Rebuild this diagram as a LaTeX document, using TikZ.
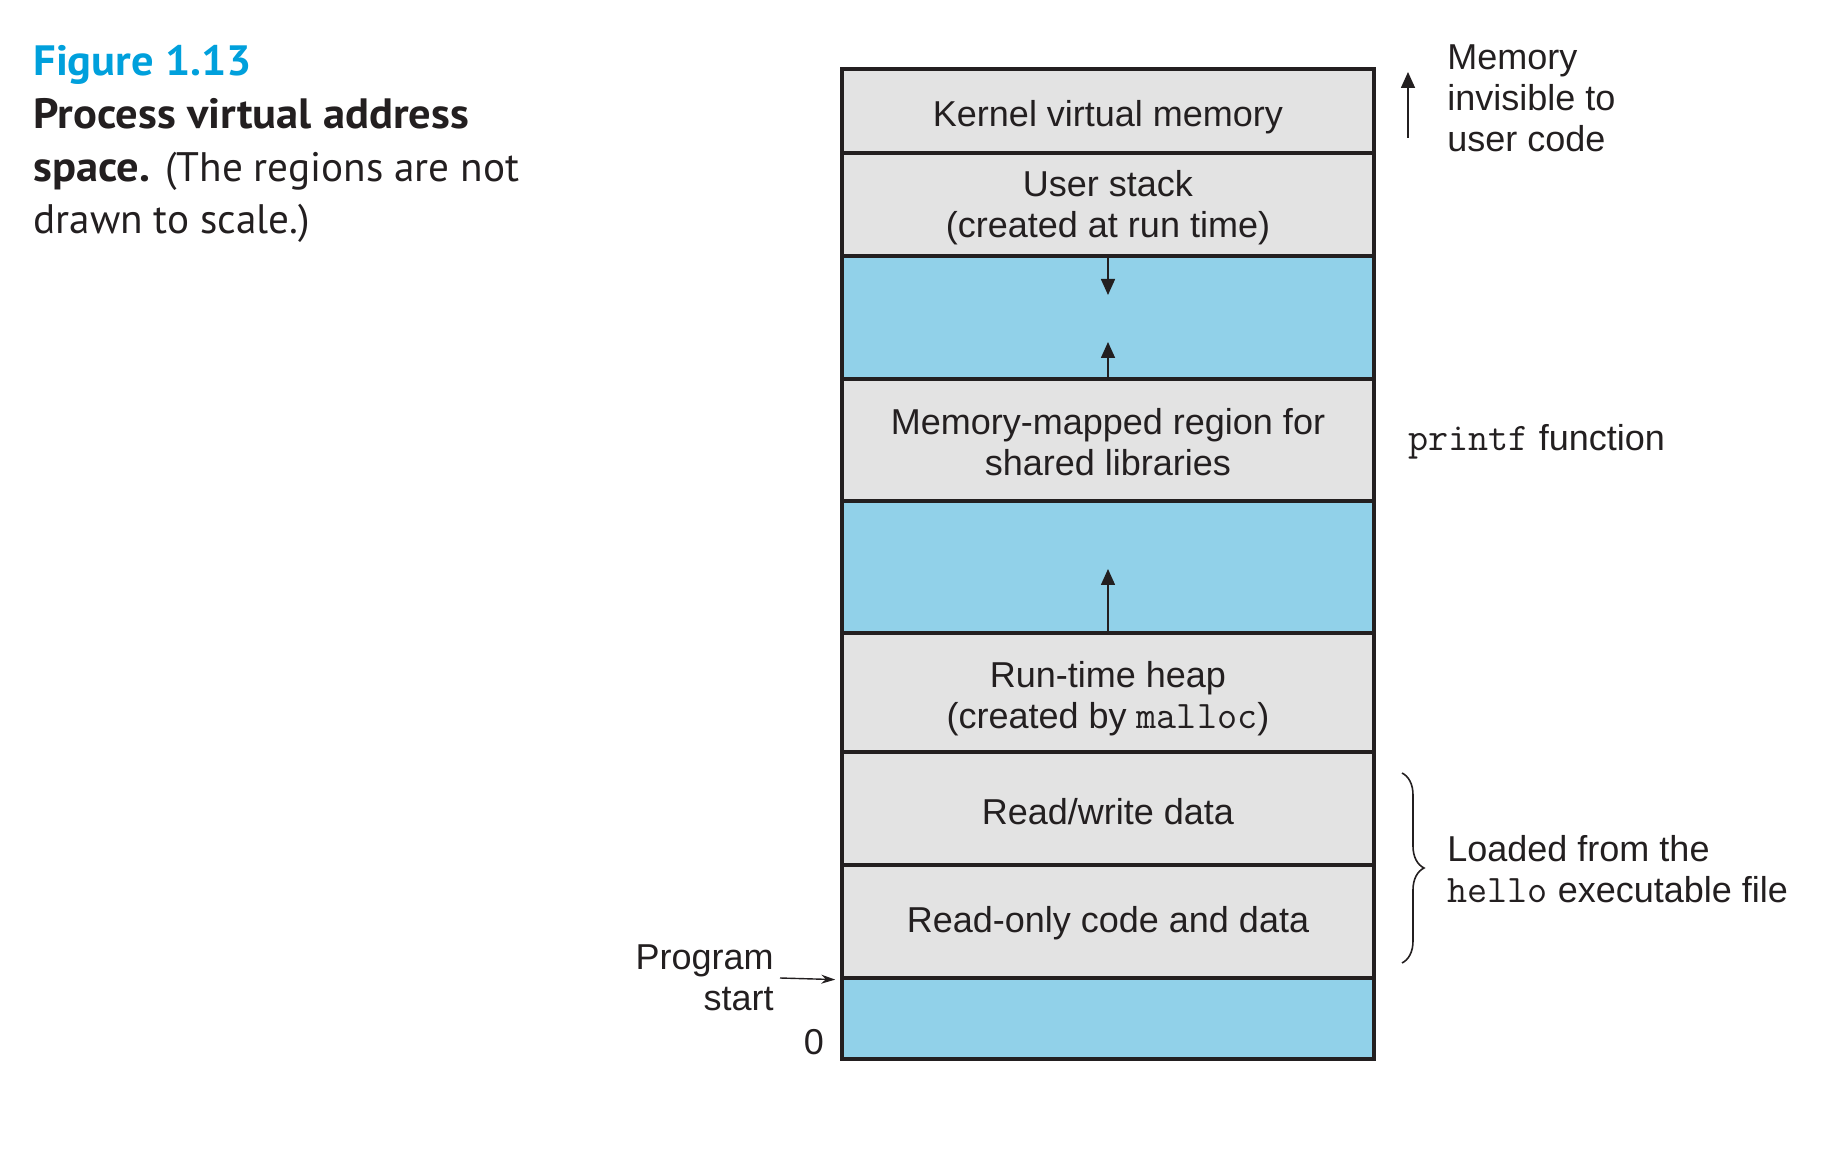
\documentclass[tikz,border=0pt]{standalone}
\usepackage{fontspec}
\setmainfont{Liberation Sans}
\newfontfamily\titlefont{PT Sans}[BoldFeatures={FakeStretch=1.05}]
\newcommand\mycode[1]{{\ttfamily\fontsize{19.5}{20.5}\selectfont #1}}
\usetikzlibrary{arrows.meta,decorations.pathreplacing}
\definecolor{figcyan}{RGB}{0,160,220}
\definecolor{gapblue}{RGB}{145,209,233}
\definecolor{regiongray}{RGB}{227,227,227}
\definecolor{ink}{RGB}{35,31,32}
\begin{document}
\begin{tikzpicture}[x=0.5pt,y=-0.5pt,
  txt/.style={font=\fontsize{18}{20.5}\selectfont, text=ink, inner sep=0pt},
  region/.style={draw=ink, line width=1.75pt, fill=regiongray,
    minimum width=266pt, inner sep=0pt},
  gap/.style={region, fill=gapblue},
  rtext/.style={txt, align=center},
  titletxt/.style={font=\titlefont\fontsize{20.6}{26}\selectfont, text=ink, inner sep=0pt, anchor=base west},
  titlebold/.style={titletxt, font=\titlefont\bfseries\fontsize{21.2}{26}\selectfont},
  growarrow/.style={draw=ink, line width=0.8pt, -{Triangle[width=7pt,length=8pt]}},
  smallarrow/.style={draw=ink, line width=0.7pt, -{Stealth[width=4.5pt,length=7pt]}},
  bracestyle/.style={draw=ink, line width=0.8pt, decorate, decoration={brace, amplitude=11pt, aspect=0.5}}
]
\useasboundingbox (0,0) rectangle (1828,1160);

% title
\node[titlebold, text=figcyan] (t1) at (33,76) {Figure 1.13};
\node[titlebold] (t2) at (33,129) {Process virtual address};
\node[titletxt] (t3) at (33,182) {{\bfseries\fontsize{21.2}{26}\selectfont space.} (The regions are not};
\node[titletxt] (t4) at (33,234) {drawn to scale.)};

% regions
\node[region, minimum height=42pt]   (kernel) at (1108,111)   {};
\node[region, minimum height=51.5pt] (stack)  at (1108,204.5) {};
\node[gap,    minimum height=61.5pt] (gapa)   at (1108,317.5) {};
\node[region, minimum height=61pt]   (mmap)   at (1108,440)   {};
\node[gap,    minimum height=66pt]   (gapb)   at (1108,567)   {};
\node[region, minimum height=59.5pt] (heap)   at (1108,692.5) {};
\node[region, minimum height=56.5pt] (rw)     at (1108,808.5) {};
\node[region, minimum height=56.5pt] (ro)     at (1108,921.5) {};
\node[gap,    minimum height=40.5pt] (gapc)   at (1108,1018.5) {};

% region texts
\node[rtext] (kernelT) at ([yshift=-2.9pt]kernel.center) {Kernel virtual memory};
\node[rtext] (stackT)  at ([yshift=-1.8pt]stack.center)  {User stack\\(created at run time)};
\node[rtext] (mmapT)   at ([yshift=-1.2pt]mmap.center)   {Memory-mapped region for\\shared libraries};
\node[rtext] (heapT)   at ([yshift=-3.2pt]heap.center)   {Run-time heap\\(created by \mycode{malloc})};
\node[rtext] (rwT)     at ([yshift=-1.8pt]rw.center)     {Read/write data};
\node[rtext] (roT)     at ([yshift=-0.6pt]ro.center)     {Read-only code and data};

% growth arrows
\coordinate (stacktip) at (1108,295);
\coordinate (mmaptip)  at (1108,342);
\coordinate (heaptip)  at (1108,569);
\draw[growarrow] (gapa.north) -- (stacktip);
\draw[growarrow] (gapa.south) -- (mmaptip);
\draw[growarrow] (gapb.south) -- (heaptip);

% right annotations
\coordinate (invbot) at (1408,138);
\coordinate (invtop) at (1408,72);
\draw[growarrow] (invbot) -- (invtop);
\node[txt, anchor=west, align=left] (invis) at (1447,98) {Memory\\invisible to\\user code};
\node[txt, anchor=west] (printf) at (1408,441.5) {\mycode{printf} function};
\coordinate (bracetop) at (1402,773);
\coordinate (bracebot) at (1402,963);
\draw[bracestyle] (bracetop) -- (bracebot);
\node[txt, anchor=west, align=left] (loaded) at (1447,869) {Loaded from the\\\mycode{hello} executable file};

% left annotations
\node[txt, anchor=east, align=right] (pstart) at (774,978) {Program\\start};
\coordinate (pstartarrow) at (780,978);
\draw[smallarrow, shorten >=2.5pt] (pstartarrow) -- (ro.south west);
\node[txt] (zero) at (814,1042) {0};
\end{tikzpicture}
\end{document}
